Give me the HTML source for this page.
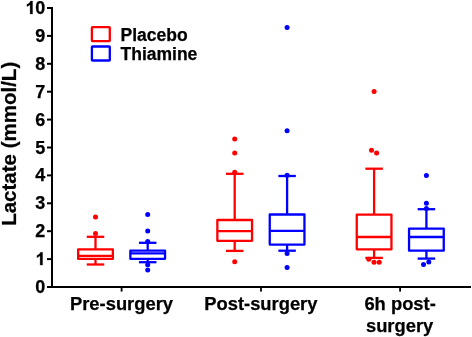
<!DOCTYPE html>
<html><head><meta charset="utf-8"><style>
html,body{margin:0;padding:0;background:#fff;}
body{width:472px;height:337px;overflow:hidden;}
svg{display:block;will-change:transform;font-family:"Liberation Sans",sans-serif;font-weight:bold;}
text{stroke:#000;stroke-width:0.25px;}
</style></head><body>
<svg width="472" height="337" viewBox="0 0 472 337">
<rect width="472" height="337" fill="#fff"/>
<rect x="51" y="7" width="2" height="281" fill="#000"/><rect x="47" y="286" width="424" height="2" fill="#000"/><rect x="47" y="286.00" width="5" height="2" fill="#000"/><rect x="47" y="258.10" width="5" height="2" fill="#000"/><rect x="47" y="230.20" width="5" height="2" fill="#000"/><rect x="47" y="202.30" width="5" height="2" fill="#000"/><rect x="47" y="174.40" width="5" height="2" fill="#000"/><rect x="47" y="146.50" width="5" height="2" fill="#000"/><rect x="47" y="118.60" width="5" height="2" fill="#000"/><rect x="47" y="90.70" width="5" height="2" fill="#000"/><rect x="47" y="62.80" width="5" height="2" fill="#000"/><rect x="47" y="34.90" width="5" height="2" fill="#000"/><rect x="47" y="7.00" width="5" height="2" fill="#000"/><rect x="120.69999999999999" y="288" width="1.8" height="3.6" fill="#000"/><rect x="260.1" y="288" width="1.8" height="3.6" fill="#000"/><rect x="399.20000000000005" y="288" width="1.8" height="3.6" fill="#000"/>
<g font-size="18"><text x="45.3" y="293.00" text-anchor="end">0</text><path transform="translate(35.29,265.10) scale(0.008789,-0.008789)" d="M831 0H550V1059Q396 915 187 846V1101Q297 1137 426 1237Q555 1338 603 1472H831Z" fill="#000" stroke="#000" stroke-width="28.4"/><text x="45.3" y="237.20" text-anchor="end">2</text><text x="45.3" y="209.30" text-anchor="end">3</text><text x="45.3" y="181.40" text-anchor="end">4</text><text x="45.3" y="153.50" text-anchor="end">5</text><text x="45.3" y="125.60" text-anchor="end">6</text><text x="45.3" y="97.70" text-anchor="end">7</text><text x="45.3" y="69.80" text-anchor="end">8</text><text x="45.3" y="41.90" text-anchor="end">9</text><path transform="translate(25.28,14.00) scale(0.008789,-0.008789)" d="M831 0H550V1059Q396 915 187 846V1101Q297 1137 426 1237Q555 1338 603 1472H831Z" fill="#000" stroke="#000" stroke-width="28.4"/><text x="45.3" y="14.00" text-anchor="end">0</text></g>
<g font-size="18.35" text-anchor="middle">
<text x="121.5" y="310.2">Pre-surgery</text>
<text x="260.9" y="310.2">Post-surgery</text>
<text x="400.1" y="310.3">6h post-</text>
<text x="399.6" y="331.5">surgery</text>
</g>
<text transform="translate(16,143.8) rotate(-90)" text-anchor="middle" font-size="20.5">Lactate (mmol/L)</text>
<rect x="91.9" y="27.2" width="17.9" height="13.9" rx="0.6" fill="none" stroke="#ff0000" stroke-width="2.3"/>
<rect x="91.9" y="46.5" width="17.9" height="14.0" rx="0.6" fill="none" stroke="#0000ff" stroke-width="2.3"/>
<text x="120.5" y="40.7" font-size="17.5">Placebo</text>
<text x="120.5" y="60.2" font-size="17.5">Thiamine</text>
<g stroke="#ff0000" stroke-width="2.3" stroke-linejoin="round" fill="none"><line x1="95.5" y1="236.8" x2="95.5" y2="249.35"/><line x1="95.5" y1="258.9" x2="95.5" y2="264.5"/><line x1="86.75" y1="236.8" x2="104.25" y2="236.8"/><line x1="86.75" y1="264.5" x2="104.25" y2="264.5"/><rect x="78.15" y="249.35" width="34.7" height="9.549999999999983" fill="none"/><line x1="78.15" y1="255.9" x2="112.85" y2="255.9"/></g><g fill="#ff0000"><circle cx="95.5" cy="217.1" r="2.5"/><circle cx="95.5" cy="233.6" r="2.5"/></g><g stroke="#0000ff" stroke-width="2.3" stroke-linejoin="round" fill="none"><line x1="147.7" y1="242.8" x2="147.7" y2="250.7"/><line x1="147.7" y1="258.85" x2="147.7" y2="262.2"/><line x1="138.95" y1="242.8" x2="156.45" y2="242.8"/><line x1="138.95" y1="262.2" x2="156.45" y2="262.2"/><rect x="130.35" y="250.7" width="34.7" height="8.150000000000034" fill="none"/><line x1="130.35" y1="253.3" x2="165.04999999999998" y2="253.3"/></g><g fill="#0000ff"><circle cx="147.7" cy="214.6" r="2.5"/><circle cx="147.7" cy="231" r="2.5"/><circle cx="147.7" cy="241.4" r="2.5"/><circle cx="147.7" cy="264.7" r="2.5"/><circle cx="147.7" cy="270" r="2.5"/></g><g stroke="#ff0000" stroke-width="2.3" stroke-linejoin="round" fill="none"><line x1="234.7" y1="173.8" x2="234.7" y2="220"/><line x1="234.7" y1="240.8" x2="234.7" y2="250.9"/><line x1="225.95" y1="173.8" x2="243.45" y2="173.8"/><line x1="225.95" y1="250.9" x2="243.45" y2="250.9"/><rect x="217.35" y="220" width="34.7" height="20.80000000000001" fill="none"/><line x1="217.35" y1="231.2" x2="252.04999999999998" y2="231.2"/></g><g fill="#ff0000"><circle cx="234.7" cy="139.1" r="2.5"/><circle cx="234.7" cy="153" r="2.5"/><circle cx="234.7" cy="172.3" r="2.5"/><circle cx="234.7" cy="261.8" r="2.5"/></g><g stroke="#0000ff" stroke-width="2.3" stroke-linejoin="round" fill="none"><line x1="287.1" y1="176" x2="287.1" y2="214.5"/><line x1="287.1" y1="244.6" x2="287.1" y2="250.7"/><line x1="278.35" y1="176" x2="295.85" y2="176"/><line x1="278.35" y1="250.7" x2="295.85" y2="250.7"/><rect x="269.75" y="214.5" width="34.7" height="30.099999999999994" fill="none"/><line x1="269.75" y1="230.9" x2="304.45000000000005" y2="230.9"/></g><g fill="#0000ff"><circle cx="287.1" cy="27.5" r="2.5"/><circle cx="287.1" cy="130.85" r="2.5"/><circle cx="287.1" cy="175.2" r="2.5"/><circle cx="287.1" cy="253.5" r="2.5"/><circle cx="287.1" cy="267.5" r="2.5"/></g><g stroke="#ff0000" stroke-width="2.3" stroke-linejoin="round" fill="none"><line x1="374.1" y1="168.7" x2="374.1" y2="214.7"/><line x1="374.1" y1="249.3" x2="374.1" y2="257.9"/><line x1="365.35" y1="168.7" x2="382.85" y2="168.7"/><line x1="365.35" y1="257.9" x2="382.85" y2="257.9"/><rect x="356.75" y="214.7" width="34.7" height="34.60000000000002" fill="none"/><line x1="356.75" y1="237" x2="391.45000000000005" y2="237"/></g><g fill="#ff0000"><circle cx="374.1" cy="91.6" r="2.5"/><circle cx="371.5" cy="150.2" r="2.5"/><circle cx="376.6" cy="153" r="2.5"/><circle cx="368.8" cy="259.2" r="2.5"/><circle cx="374.05" cy="262.2" r="2.5"/><circle cx="379.2" cy="262.2" r="2.5"/></g><g stroke="#0000ff" stroke-width="2.3" stroke-linejoin="round" fill="none"><line x1="426.4" y1="209.2" x2="426.4" y2="228.6"/><line x1="426.4" y1="250.7" x2="426.4" y2="258.6"/><line x1="417.65" y1="209.2" x2="435.15" y2="209.2"/><line x1="417.65" y1="258.6" x2="435.15" y2="258.6"/><rect x="409.04999999999995" y="228.6" width="34.7" height="22.099999999999994" fill="none"/><line x1="409.04999999999995" y1="237" x2="443.75" y2="237"/></g><g fill="#0000ff"><circle cx="426.4" cy="175.4" r="2.5"/><circle cx="426.4" cy="203.2" r="2.5"/><circle cx="426.4" cy="208.4" r="2.5"/><circle cx="428.8" cy="261.9" r="2.5"/><circle cx="423.5" cy="264.5" r="2.5"/></g>
</svg>
</body></html>
